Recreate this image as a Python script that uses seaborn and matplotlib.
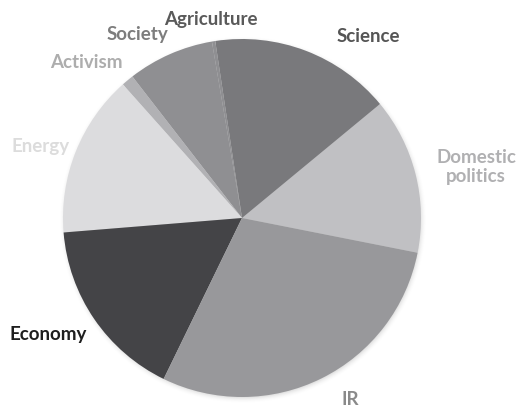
import numpy as np
import matplotlib
matplotlib.use("Agg")
import matplotlib.pyplot as plt
import seaborn as sns

sns.set_theme(style="white")
plt.rcParams["font.family"] = ["Lato", "DejaVu Sans"]

# Topic shares (percent), counter-clockwise from the Domestic/IR boundary
topics = ["Domestic\npolitics", "Science", "Agriculture", "Society", "Activism",
          "Energy", "Economy", "IR"]
shares = [14.1, 16.4, 0.3, 7.8, 1.1, 14.7, 16.5, 29.1]
slice_colors = ["#c0c0c3", "#79797c", "#8f8f92", "#8f8f92", "#b1b1b4",
                "#dcdcde", "#444447", "#98989b"]
label_colors = ["#b0b0b2", "#555555", "#5a5a5a", "#7d7d7d", "#adadad",
                "#dcdcdc", "#1e1e1e", "#8a8a8a"]
# label placement: (radius, angular offset in degrees) relative to wedge middle
label_place = [(1.338, -1.9), (1.236, -13.8), (1.12, -0.3), (1.18, 6.1),
               (1.232, 5.3), (1.196, 2.4), (1.263, -3.4), (1.18, 4.3)]

W, H = 523, 409
cx, cy, R = 242, 218, 179
fig = plt.figure(figsize=(W / 100, H / 100), dpi=100)
ax = fig.add_axes([0, 0, 1, 1])
ax.axis("off")

# soft drop shadow around the disc
gx = np.linspace(-cx / R, (W - cx) / R, W)
gy = np.linspace(-(H - cy) / R, cy / R, H)
XX, YY = np.meshgrid(gx, gy)
dist = np.hypot(XX - 0.005, YY + 0.01)
shadow = np.clip(1 - (dist - 0.985) / 0.045, 0, 1) ** 2
rgba = np.zeros((H, W, 4))
rgba[..., :3] = 0.55
rgba[..., 3] = shadow * 0.4
ax.imshow(rgba, extent=(gx[0], gx[-1], gy[0], gy[-1]), origin="lower",
          zorder=0, interpolation="bilinear")

wedges, _ = ax.pie(shares, colors=slice_colors, startangle=-11.2,
                   counterclock=True, radius=1.0, center=(0, 0),
                   wedgeprops=dict(linewidth=0, antialiased=True))
for w in wedges:
    w.set_zorder(1)
ax.set_xlim(-cx / R, (W - cx) / R)
ax.set_ylim(-(H - cy) / R, cy / R)
ax.set_aspect("auto")

for w, name, col, (rad, off) in zip(wedges, topics, label_colors, label_place):
    mid = np.deg2rad((w.theta1 + w.theta2) / 2 + off)
    ax.text(rad * np.cos(mid), rad * np.sin(mid), name, ha="center", va="center",
            fontsize=13.5, fontweight="bold", color=col, linespacing=1.2,
            zorder=3)

fig.savefig("out.png", dpi=100, facecolor="white")
